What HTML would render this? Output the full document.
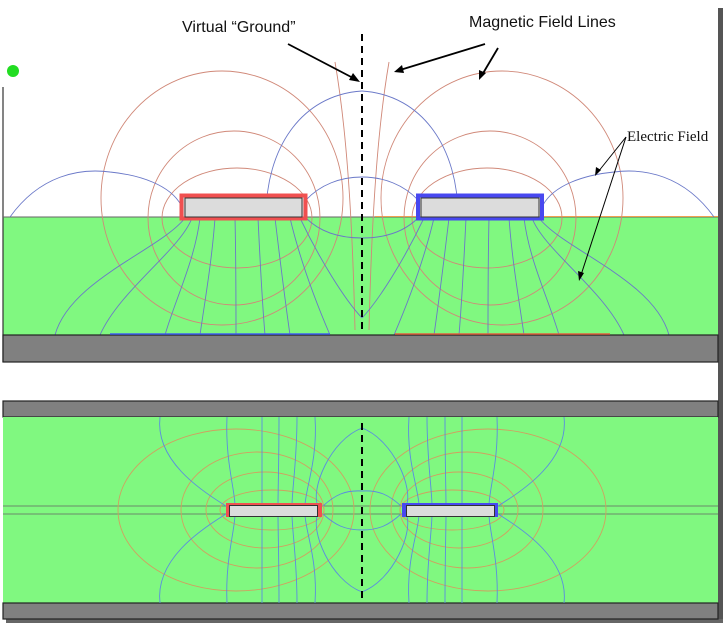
<!DOCTYPE html>
<html><head><meta charset="utf-8"><style>
html,body{margin:0;padding:0;background:#fff;}
svg{display:block}
</style></head><body>
<svg width="726" height="628" viewBox="0 0 726 628" xmlns="http://www.w3.org/2000/svg">
<defs>
<g id="topHalf" fill="none" stroke-width="0.9">
  <g stroke="#d08878">
    <ellipse cx="222" cy="198" rx="121" ry="127"/>
    <ellipse cx="234" cy="218" rx="86" ry="87"/>
    <ellipse cx="237" cy="218" rx="75" ry="50"/>
    <path d="M335 62 C345 120 352 200 355 330"/>
  </g>
  <g stroke="#6a78c8">
    <path d="M10 217 C40 175 80 168 110 172 C140 175 170 185 181 205"/>
    <path d="M192 218 C180 250 120 290 100 335"/>
    <path d="M185 218 C160 250 70 280 55 335"/>
    <path d="M200 218 C195 260 175 300 165 335"/>
    <path d="M215 218 C212 260 205 300 200 335"/>
    <path d="M235 218 C236 260 236 300 236 335"/>
    <path d="M258 218 C260 260 262 300 265 335"/>
    <path d="M275 218 C280 260 285 300 290 335"/>
    <path d="M290 218 C300 260 315 300 330 335"/>
    <path d="M300 218 C320 260 345 300 362 318"/>
    <path d="M306 218 C320 232 340 238 362 238"/>
    <path d="M306 200 C320 185 340 177 362 177"/>
    <path d="M266 216 C266 150 300 95 362 91"/>
  </g>
</g>
<g id="botHalf" fill="none" stroke-width="0.9">
  <g stroke="#d0a060">
    <ellipse cx="236" cy="510" rx="118" ry="81"/>
    <ellipse cx="257" cy="510" rx="76" ry="58"/>
    <ellipse cx="265" cy="510" rx="59" ry="38"/>
    <ellipse cx="272" cy="510" rx="52" ry="20"/>
  </g>
  <g stroke="#5a8ce0">
    <path d="M160 417 C155 460 200 490 226 506"/>
    <path d="M160 603 C155 560 200 530 226 514"/>
    <path d="M227 417 C225 460 235 490 235 506"/>
    <path d="M227 603 C225 560 235 530 235 514"/>
    <path d="M262 417 C262 460 262 490 262 506"/>
    <path d="M262 603 C262 560 262 530 262 514"/>
    <path d="M279 417 C279 460 278 490 278 506"/>
    <path d="M279 603 C279 560 278 530 278 514"/>
    <path d="M297 417 C297 460 292 490 292 506"/>
    <path d="M297 603 C297 560 292 530 292 514"/>
    <path d="M315 417 C318 460 305 490 305 506"/>
    <path d="M315 603 C318 560 305 530 305 514"/>
    <path d="M362 428 C330 440 310 490 318 506"/>
    <path d="M362 592 C330 580 310 530 318 514"/>
    <path d="M323 506 C335 495 345 490 362 491"/>
    <path d="M323 514 C335 525 345 530 362 530"/>
  </g>
</g>
</defs>

<rect x="718" y="8" width="5" height="614" fill="#555"/>
<rect x="6" y="619" width="717" height="4" fill="#666"/>

<rect x="3" y="217" width="715" height="118" fill="#80f880"/>
<line x1="3" y1="87" x2="3" y2="362" stroke="#333" stroke-width="1.2"/>
<line x1="3" y1="217" x2="718" y2="217" stroke="#666" stroke-width="1"/>
<line x1="375" y1="216.5" x2="718" y2="216.5" stroke="#f0a050" stroke-width="1"/>
<use href="#topHalf"/>
<use href="#topHalf" transform="translate(724,0) scale(-1,1)"/>
<rect x="3" y="335" width="715" height="27" fill="#808080" stroke="#222" stroke-width="1.2"/>
<line x1="110" y1="334" x2="330" y2="334" stroke="#4060f0" stroke-width="1.5"/>
<line x1="395" y1="334" x2="610" y2="334" stroke="#e06040" stroke-width="1.5"/>

<rect x="181.5" y="195.5" width="124" height="23" fill="#dcdcdc" stroke="#f05050" stroke-width="4"/>
<rect x="185" y="198" width="117" height="19" fill="none" stroke="#333" stroke-width="1"/>
<rect x="418" y="195.5" width="124" height="23" fill="#dcdcdc" stroke="#4848f0" stroke-width="4"/>
<rect x="421" y="198" width="118" height="19" fill="none" stroke="#333" stroke-width="1"/>

<circle cx="13" cy="71" r="6" fill="#22dd22"/>

<rect x="3" y="401" width="715" height="16" fill="#808080" stroke="#222" stroke-width="1.2"/>
<rect x="3" y="417" width="715" height="186" fill="#80f880"/>
<rect x="3" y="603" width="715" height="16" fill="#808080" stroke="#222" stroke-width="1.2"/>
<line x1="3" y1="506" x2="718" y2="506" stroke="#6a8a6a" stroke-width="1"/>
<line x1="3" y1="514" x2="718" y2="514" stroke="#6a8a6a" stroke-width="1"/>
<use href="#botHalf"/>
<use href="#botHalf" transform="translate(724,0) scale(-1,1)"/>
<rect x="226" y="503" width="96" height="14" fill="#f05050"/>
<rect x="229.5" y="505.5" width="88" height="11" fill="#dcdcdc" stroke="#333" stroke-width="1"/>
<rect x="402" y="503" width="96" height="14" fill="#4848f0"/>
<rect x="406.5" y="505.5" width="88" height="11" fill="#dcdcdc" stroke="#333" stroke-width="1"/>

<line x1="362" y1="34" x2="362" y2="334" stroke="#000" stroke-width="2" stroke-dasharray="7,5"/>
<line x1="362" y1="423" x2="362" y2="598" stroke="#000" stroke-width="2" stroke-dasharray="7,5"/>

<g font-family="Liberation Sans, sans-serif" font-size="16" fill="#111">
  <text x="182" y="32">Virtual “Ground”</text>
  <text x="469" y="27">Magnetic Field Lines</text>
</g>
<text x="627" y="141" font-family="Liberation Serif, serif" font-size="15" fill="#111">Electric Field</text>

<g stroke="#000" stroke-width="1.8" fill="#000">
  <line x1="288" y1="44" x2="355" y2="79"/>
  <polygon points="360,82 349,80 353,73" stroke="none"/>
  <line x1="485" y1="44" x2="400" y2="70"/>
  <polygon points="394,72 402,65 404,73" stroke="none"/>
  <line x1="498" y1="48" x2="482" y2="75"/>
  <polygon points="479,80 479,70 486,73" stroke="none"/>
</g>
<g stroke="#000" stroke-width="1" fill="#000">
  <line x1="626" y1="137" x2="598" y2="172"/>
  <polygon points="595,176 596,167 601,170" stroke="none"/>
  <line x1="626" y1="137" x2="581" y2="275"/>
  <polygon points="579,281 578,271 584,273" stroke="none"/>
</g>
</svg>
</body></html>
